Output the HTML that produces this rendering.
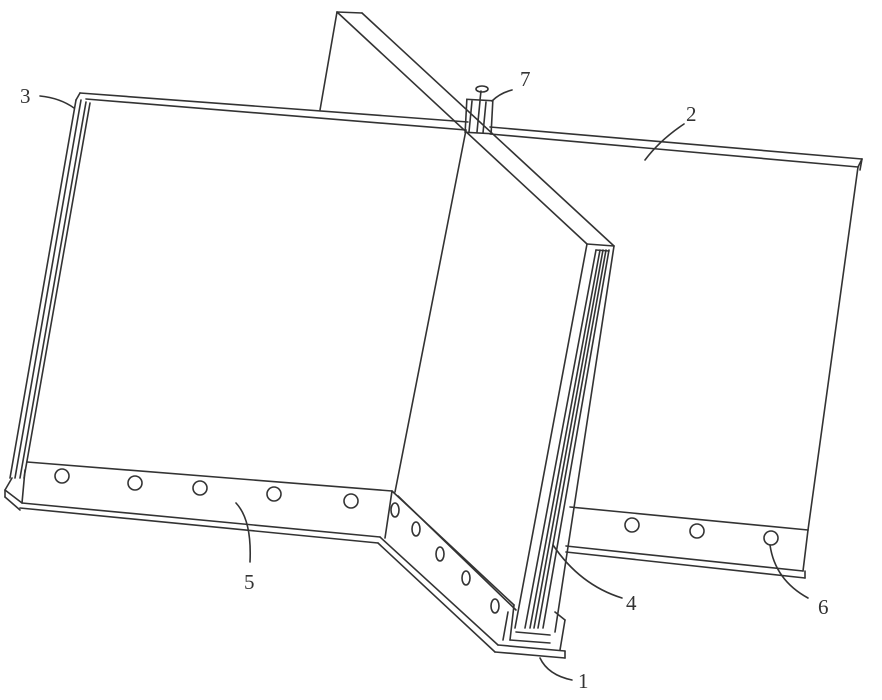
<!DOCTYPE html>
<html><head><meta charset="utf-8"><style>
html,body{margin:0;padding:0;background:#fff;}
svg{display:block;}
text{font-family:"Liberation Serif",serif;font-size:21px;fill:#333;}
</style></head><body>
<svg width="882" height="700" viewBox="0 0 882 700" xmlns="http://www.w3.org/2000/svg">
<g fill="none" stroke="#333" stroke-width="1.6" stroke-linecap="round">
<line x1="320" y1="110" x2="337" y2="12"/>
<line x1="337" y1="12" x2="362" y2="13"/>
<line x1="337" y1="12" x2="587" y2="244"/>
<line x1="362" y1="13" x2="614" y2="246"/>
<line x1="587" y1="244" x2="614" y2="246"/>
<line x1="80" y1="93" x2="468" y2="122"/>
<line x1="86" y1="99" x2="466" y2="130"/>
<line x1="80" y1="93" x2="76" y2="100"/>
<line x1="76" y1="100" x2="10" y2="478"/>
<line x1="81" y1="100" x2="15" y2="478"/>
<line x1="86" y1="102" x2="20" y2="478"/>
<line x1="90" y1="103" x2="24" y2="478"/>
<line x1="466" y1="130" x2="395" y2="492"/>
<line x1="27" y1="462" x2="392" y2="491"/>
<line x1="25" y1="470" x2="22" y2="503"/>
<line x1="22" y1="503" x2="380" y2="537"/>
<line x1="20" y1="508" x2="378" y2="543"/>
<line x1="5" y1="490" x2="22" y2="503"/>
<line x1="5" y1="490" x2="5" y2="497"/>
<line x1="5" y1="497" x2="20" y2="510"/>
<line x1="12" y1="478" x2="5" y2="490"/>
<line x1="392" y1="491" x2="385" y2="538"/>
<line x1="392" y1="491" x2="514" y2="605"/>
<line x1="398" y1="496" x2="516" y2="610"/>
<line x1="380" y1="537" x2="498" y2="645"/>
<line x1="378" y1="543" x2="495" y2="652"/>
<line x1="495" y1="652" x2="565" y2="658"/>
<line x1="498" y1="645" x2="565" y2="651"/>
<line x1="565" y1="651" x2="565" y2="658"/>
<line x1="508" y1="612" x2="503" y2="640"/>
<line x1="514" y1="605" x2="510" y2="640"/>
<line x1="510" y1="640" x2="550" y2="643"/>
<line x1="516" y1="632" x2="550" y2="635"/>
<line x1="555" y1="612" x2="565" y2="620"/>
<line x1="565" y1="620" x2="560" y2="650"/>
<line x1="587" y1="244" x2="515" y2="628"/>
<line x1="614" y1="246" x2="555" y2="632"/>
<line x1="596" y1="250" x2="525" y2="628"/>
<line x1="600" y1="250" x2="530" y2="628"/>
<line x1="603" y1="250" x2="534" y2="628"/>
<line x1="606" y1="250" x2="538" y2="628"/>
<line x1="609" y1="250" x2="543" y2="628"/>
<line x1="596" y1="250" x2="609" y2="251"/>
<line x1="490" y1="127" x2="862" y2="159"/>
<line x1="490" y1="134" x2="858" y2="167"/>
<line x1="862" y1="159" x2="858" y2="167"/>
<line x1="858" y1="167" x2="808" y2="530"/>
<line x1="862" y1="159" x2="860" y2="170"/>
<line x1="570" y1="507" x2="808" y2="530"/>
<line x1="808" y1="530" x2="803" y2="571"/>
<line x1="566" y1="546" x2="803" y2="571"/>
<line x1="566" y1="552" x2="805" y2="578"/>
<line x1="805" y1="571" x2="805" y2="578"/>
<rect x="466" y="100" width="26" height="33" transform="rotate(3 479 116)"/>
<line x1="472" y1="101" x2="469" y2="132"/>
<line x1="480" y1="101" x2="477" y2="132"/>
<line x1="486" y1="102" x2="483" y2="133"/>
<ellipse cx="482" cy="89" rx="6" ry="3"/>
<line x1="481" y1="91" x2="480" y2="100"/>
<circle cx="62" cy="476" r="7"/><circle cx="135" cy="483" r="7"/><circle cx="200" cy="488" r="7"/>
<circle cx="274" cy="494" r="7"/><circle cx="351" cy="501" r="7"/>
<ellipse cx="395" cy="510" rx="4" ry="7"/><ellipse cx="416" cy="529" rx="4" ry="7"/>
<ellipse cx="440" cy="554" rx="4" ry="7"/><ellipse cx="466" cy="578" rx="4" ry="7"/>
<ellipse cx="495" cy="606" rx="4" ry="7"/>
<circle cx="632" cy="525" r="7"/><circle cx="697" cy="531" r="7"/><circle cx="771" cy="538" r="7"/>
<path d="M40 96 Q60 98 74 108"/>
<path d="M512 90 Q500 93 492 101"/>
<path d="M684 124 Q660 140 645 160"/>
<path d="M250 562 Q252 520 236 503"/>
<path d="M622 598 Q580 585 553 545"/>
<path d="M808 598 Q775 580 770 545"/>
<path d="M572 680 Q548 675 540 658"/>
</g>
<text x="20" y="103">3</text>
<text x="520" y="86">7</text>
<text x="686" y="121">2</text>
<text x="244" y="589">5</text>
<text x="626" y="610">4</text>
<text x="818" y="614">6</text>
<text x="578" y="688">1</text>
</svg>
</body></html>
